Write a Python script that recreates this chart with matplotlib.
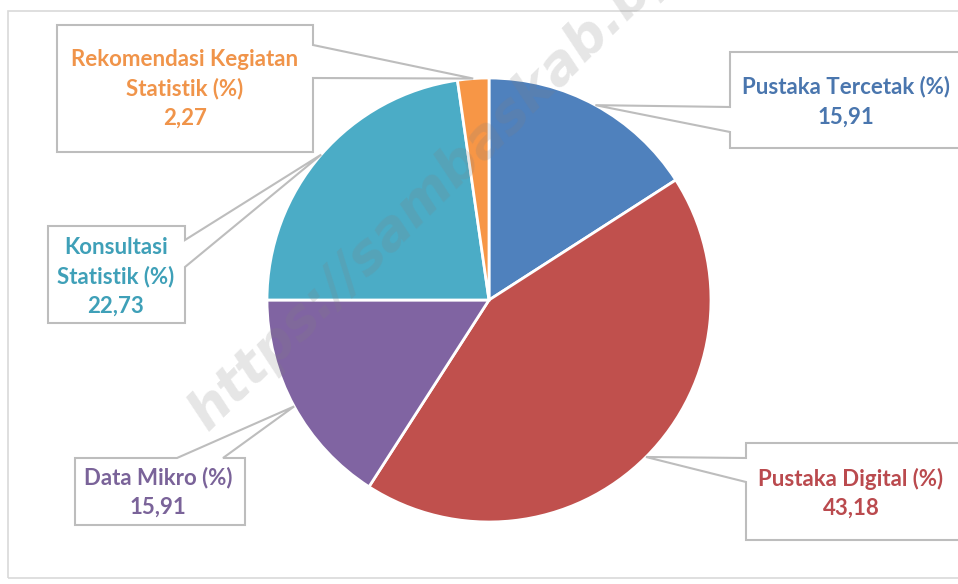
import numpy as np
import matplotlib
matplotlib.use("Agg")
import matplotlib.pyplot as plt
from matplotlib.patches import Polygon, Rectangle

# ---- data ----
categories = ["Pustaka Tercetak (%)", "Pustaka Digital (%)", "Data Mikro (%)",
              "Konsultasi\nStatistik (%)", "Rekomendasi Kegiatan\nStatistik (%)"]
values = [15.91, 43.18, 15.91, 22.73, 2.27]
value_labels = ["15,91", "43,18", "15,91", "22,73", "2,27"]
slice_colors = ["#4F81BD", "#C0504D", "#8064A2", "#4BACC6", "#F79646"]
text_colors = ["#4A76AE", "#BA4A4E", "#7A6399", "#3FA0B8", "#F0944A"]
watermark = "https://sambaskab.bps.go.id"

W, H = 958, 584
fig = plt.figure(figsize=(W / 100, H / 100), dpi=100)
ax = fig.add_axes([0, 0, 1, 1])

def Y(y):
    return H - y

cx, cy, R = 489, Y(300), 222
wedges, _ = ax.pie(values, colors=slice_colors, startangle=90, counterclock=False,
                   center=(cx, cy), radius=R, frame=True,
                   wedgeprops=dict(edgecolor="white", linewidth=2))
ax.set_xlim(0, W)
ax.set_ylim(0, H)
ax.set_aspect("equal")
ax.set_axis_off()

# outer chart frame
ax.add_patch(Rectangle((8, Y(578)), 980, 567, fill=False, edgecolor="#d9d9d9", lw=1.2, zorder=0))

# callout boxes: (x0, y0, x1, y1) in image coords, pointer side, base span
boxes = [
    dict(box=(730, 52, 975, 148), side="left", base=(107, 132), lines_y=(87, 117), tx=846),
    dict(box=(746, 443, 975, 540), side="left", base=(458, 482), lines_y=(479, 508), tx=851),
    dict(box=(75, 458, 245, 525), side="top", base=(177, 223), lines_y=(478, 507), tx=158),
    dict(box=(48, 226, 185, 323), side="right", base=(240, 267), lines_y=(248, 277, 306), tx=116),
    dict(box=(57, 25, 313, 152), side="right", base=(45, 78), lines_y=(60, 89, 118), tx=185),
]

for i, (w, b) in enumerate(zip(wedges, boxes)):
    mid = np.deg2rad((w.theta1 + w.theta2) / 2)
    tip = (cx + R * np.cos(mid), cy + R * np.sin(mid))
    x0, y0, x1, y1 = b["box"]
    s0, s1 = b["base"]
    if b["side"] == "left":
        pts = [(x0, Y(y0)), (x1, Y(y0)), (x1, Y(y1)), (x0, Y(y1)),
               (x0, Y(s1)), tip, (x0, Y(s0))]
    elif b["side"] == "right":
        pts = [(x0, Y(y0)), (x1, Y(y0)), (x1, Y(s0)), tip, (x1, Y(s1)),
               (x1, Y(y1)), (x0, Y(y1))]
    else:  # top
        pts = [(x0, Y(y0)), (s0, Y(y0)), tip, (s1, Y(y0)), (x1, Y(y0)),
               (x1, Y(y1)), (x0, Y(y1))]
    ax.add_patch(Polygon(pts, closed=True, facecolor="white", edgecolor="#bdbdbd",
                         lw=1.5, zorder=3, joinstyle="miter"))
    lines = categories[i].split("\n") + [value_labels[i]]
    for ln, yy in zip(lines, b["lines_y"]):
        ax.text(b["tx"], Y(yy), ln, ha="center", va="center", fontsize=16,
                fontweight="bold", family="Lato", color=text_colors[i], zorder=4)

# watermark
ax.text(208, Y(432), watermark, rotation=44.5, rotation_mode="anchor",
        ha="left", va="baseline", fontsize=39, fontweight="bold", style="italic",
        family="DejaVu Sans", color="#808080", alpha=0.2, zorder=5)

fig.savefig("out.png", dpi=100)
